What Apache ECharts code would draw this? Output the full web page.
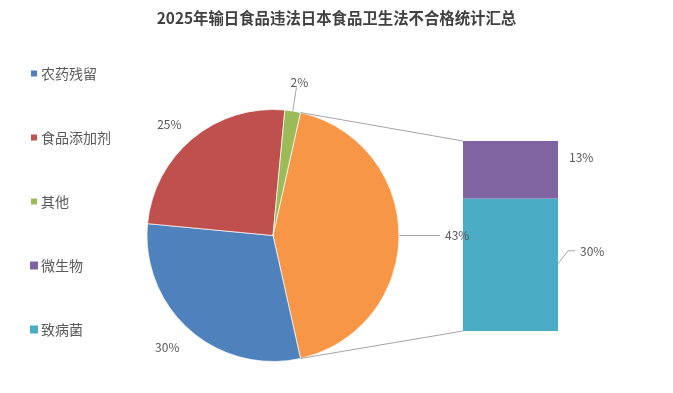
<!DOCTYPE html>
<html><head><meta charset="utf-8">
<script src="https://cdn.jsdelivr.net/npm/echarts@6/dist/echarts.min.js"></script>
<style>html,body{margin:0;padding:0;background:#fff}#c{width:673px;height:393px}</style>
</head><body><div id="c"></div>
<script>
const titleText = '2025年输日食品违法日本食品卫生法不合格统计汇总';
const pieNames = ['其余', '农药残留', '食品添加剂', '其他'];
const pieValues = [43, 30, 25, 2];
const barNames = ['致病菌', '微生物'];
const barValues = [30, 13];
const legendNames = ['农药残留', '食品添加剂', '其他', '微生物', '致病菌'];

const pieColors = ['#f79646', '#4f81bd', '#c0504d', '#9bbb59'];
const barColors = ['#4bacc6', '#8064a2'];
const FONT = '"Noto Sans CJK SC", "Noto Sans", sans-serif';
const TXT = '#595959';
const LINE = '#a6a6a6';

const cx = 273, cy = 235.5, R = 126;
const gridL = 463, gridW = 95, gridT = 141, gridH = 190;

const pieTotal = pieValues.reduce((a, b) => a + b, 0);
const barTotal = barValues.reduce((a, b) => a + b, 0);
const halfAngle = pieValues[0] / pieTotal * 180;

const labelCfg = [
  { show: true, length: 32, length2: 9 },
  { show: false, length: 23, length2: -10 },
  { show: false, length: 17.5, length2: -5 },
  { show: true, length: 24, length2: 0 }
];

const pieData = pieNames.map((n, i) => ({
  name: n,
  value: pieValues[i],
  itemStyle: { color: pieColors[i] },
  labelLine: { show: labelCfg[i].show, length: labelCfg[i].length, length2: labelCfg[i].length2 }
}));

const chart = echarts.init(document.getElementById('c'), null, { renderer: 'canvas' });

const option = {
  animation: false,
  backgroundColor: '#fff',
  title: {
    text: titleText, left: 'center', top: 10, padding: 0,
    textStyle: { fontSize: 15.4, fontWeight: 'bold', color: '#404040', fontFamily: FONT }
  },
  legend: {
    data: legendNames, orient: 'vertical', left: 29, top: 66.5, padding: 0,
    itemWidth: 8, itemHeight: 8, itemGap: 50, icon: 'rect',
    textStyle: { fontSize: 14, color: TXT, fontFamily: FONT, padding: [0, 0, 0, -2] }
  },
  grid: { left: gridL, top: gridT, width: gridW, height: gridH, containLabel: false },
  xAxis: { type: 'category', data: [''], show: false },
  yAxis: { type: 'value', min: 0, max: barTotal, show: false },
  series: [
    {
      type: 'pie', name: 'pie', center: [cx, cy], radius: R,
      startAngle: halfAngle, clockwise: true, avoidLabelOverlap: false,
      itemStyle: { borderColor: '#fff', borderWidth: 0.7 },
      label: { show: true, position: 'outside', formatter: '{c}%', fontSize: 12, color: TXT, fontFamily: FONT, distanceToLabelLine: 5 },
      labelLine: { lineStyle: { color: LINE, width: 1 }, minTurnAngle: 0, maxSurfaceAngle: 180 },
      labelLayout: function (p) { return p.dataIndex === 3 ? { dx: -5.5, dy: -2.5 } : {}; },
      emphasis: { disabled: true },
      data: pieData
    },
    {
      type: 'bar', name: barNames[0], stack: 's', barWidth: '100%', data: [barValues[0]],
      itemStyle: { color: barColors[0] },
      label: { show: true, position: 'right', distance: 22, offset: [0, -13], formatter: '{c}%', fontSize: 12, color: TXT, fontFamily: FONT },
      emphasis: { disabled: true }
    },
    {
      type: 'bar', name: barNames[1], stack: 's', barWidth: '100%', data: [barValues[1]],
      itemStyle: { color: barColors[1] },
      label: { show: true, position: 'right', distance: 11, offset: [0, -12], formatter: '{c}%', fontSize: 12, color: TXT, fontFamily: FONT },
      emphasis: { disabled: true }
    }
  ]
};
chart.setOption(option);

// connector lines from the aggregated slice edges to the bar corners
const a = halfAngle * Math.PI / 180;
const px = cx + R * Math.cos(a);
const pyTop = cy - R * Math.sin(a);
const pyBot = cy + R * Math.sin(a);
const barTopY = chart.convertToPixel({ yAxisIndex: 0 }, barTotal);
const barBotY = chart.convertToPixel({ yAxisIndex: 0 }, 0);
const barMidY = chart.convertToPixel({ yAxisIndex: 0 }, barValues[0] / 2);
const barR = gridL + gridW;
chart.setOption({
  graphic: [
    { type: 'line', shape: { x1: px, y1: pyTop, x2: gridL, y2: barTopY }, style: { stroke: LINE, lineWidth: 1 }, z: 10 },
    { type: 'line', shape: { x1: px, y1: pyBot, x2: gridL, y2: barBotY }, style: { stroke: LINE, lineWidth: 1 }, z: 10 },
    { type: 'polyline', shape: { points: [[barR, barMidY - 1], [barR + 10, barMidY - 14], [barR + 17, barMidY - 14]] }, style: { stroke: LINE, lineWidth: 1, fill: null }, z: 10 }
  ]
});
</script>
</body></html>
